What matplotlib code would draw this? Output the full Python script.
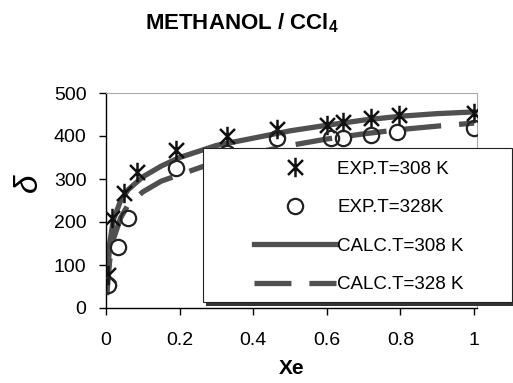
import matplotlib
matplotlib.use("Agg")
import matplotlib.pyplot as plt
from matplotlib.path import Path
from matplotlib.patches import Rectangle
from matplotlib.lines import Line2D

plt.rcParams['font.family'] = ['Liberation Sans', 'DejaVu Sans']
plt.rcParams['mathtext.fontset'] = 'custom'
plt.rcParams['mathtext.bf'] = 'Liberation Sans:bold'
plt.rcParams['mathtext.rm'] = 'Liberation Sans'

exp308_x = [0.006, 0.015, 0.05, 0.085, 0.19, 0.33, 0.465, 0.60, 0.645, 0.72, 0.795, 1.0]
exp308_y = [77, 209, 267, 316, 367, 400, 416, 426, 433, 442, 449, 453]
exp328_x = [0.005, 0.033, 0.06, 0.19, 0.33, 0.465, 0.61, 0.645, 0.72, 0.79, 1.0]
exp328_y = [53, 142, 209, 326, 360, 395, 395, 395, 402, 409, 419]

# calculated curves
calc_x = [0.002, 0.01, 0.02, 0.04, 0.06, 0.1, 0.15, 0.2, 0.3, 0.4, 0.5, 0.6, 0.7, 0.8, 0.9, 1.0]
calc308_y = [40, 150, 205, 250, 275, 305, 330, 350, 378, 395, 412, 425, 437, 446, 452, 456]
calc328_y = [30, 110, 160, 210, 240, 270, 295, 310, 340, 360, 378, 393, 405, 415, 423, 430]

labels = ['EXP.T=308 K', 'EXP.T=328K', 'CALC.T=308 K', 'CALC.T=328 K']
xticks = [0, 0.2, 0.4, 0.6, 0.8, 1]
yticks = [0, 100, 200, 300, 400, 500]

# excel style asterisk: X plus a vertical bar
star = Path([(-1, -1), (1, 1), (-1, 1), (1, -1), (0, -1.3), (0, 1.3)],
            [Path.MOVETO, Path.LINETO, Path.MOVETO, Path.LINETO, Path.MOVETO, Path.LINETO])

W, H = 513, 383
fig = plt.figure(figsize=(W / 100, H / 100), dpi=100)
ax = fig.add_axes([106 / W, 1 - 308 / H, 371 / W, 215 / H])

line_col = '#505050'
ax.plot(calc_x, calc308_y, color=line_col, lw=3.8, solid_capstyle='round', zorder=2)
ax.plot(calc_x, calc328_y, color=line_col, lw=3.8, dashes=(7.0, 3.4), zorder=2)
ax.plot(exp308_x, exp308_y, ls='none', marker=star, ms=14, mew=1.8,
        mec='#111111', mfc='none', zorder=3)
ax.plot(exp328_x, exp328_y, ls='none', marker='o', ms=11, mew=1.6,
        mec='#222222', mfc='none', zorder=3)

ax.set_xlim(0, 1.008)
ax.set_ylim(0, 500)
ax.set_xticks(xticks)
ax.set_xticklabels(['0', '0.2', '0.4', '0.6', '0.8', '1'])
ax.set_yticks(yticks)
ax.tick_params(direction='out', length=5, width=1, labelsize=14, colors='black')
ax.tick_params(axis='x', pad=12.5)
ax.tick_params(axis='y', pad=9)
for s in ['top', 'right']:
    ax.spines[s].set_color('#aaaaaa')
    ax.spines[s].set_linewidth(0.8)
for s in ['left', 'bottom']:
    ax.spines[s].set_linewidth(1)

ax.set_xlabel('Xe', fontsize=15, fontweight='bold')
ax.xaxis.set_label_coords((292 - 106) / 371, -(369 - 308) / 215)
ax.xaxis.label.set_verticalalignment('center')
ax.set_ylabel('δ', fontsize=24, rotation=90, style='italic')
ax.yaxis.set_label_coords(-(106 - 28) / 371, (308 - 183) / 215)
ax.yaxis.label.set_verticalalignment('center')

fig.text(242 / W, 1 - 23 / H, 'METHANOL / CCl$_\\mathbf{4}$', ha='center', va='center',
         fontsize=16, fontweight='bold')

# legend box with shadow
lx0, ly0 = (203 - 106) / 371, (308 - 302) / 215
lw_, lh_ = (512 - 203) / 371, (302 - 148) / 215
ax.add_patch(Rectangle((lx0 + 3 / 371, ly0 - 4 / 215), lw_, lh_, transform=ax.transAxes,
                       facecolor='#333333', edgecolor='none', clip_on=False, zorder=5))
ax.add_patch(Rectangle((lx0, ly0), lw_, lh_, transform=ax.transAxes,
                       facecolor='white', edgecolor='#222222', lw=0.8, clip_on=False, zorder=6))

handles = [
    Line2D([], [], ls='none', marker=star, ms=14, mew=1.8, mec='#111111'),
    Line2D([], [], ls='none', marker='o', ms=11, mew=1.6, mec='#222222', mfc='none'),
    Line2D([], [], color=line_col, lw=3.8),
    Line2D([], [], color=line_col, lw=3.8, dashes=(7.0, 3.4)),
]
leg = ax.legend(handles, labels, loc='upper left', frameon=False, fontsize=13.5,
                bbox_to_anchor=((248 - 106) / 371, (308 - 155) / 215),
                handlelength=4.4, handletextpad=0.05, labelspacing=1.14,
                borderpad=0.3, borderaxespad=0)
leg.set_zorder(7)

fig.savefig('out.png', dpi=100)
